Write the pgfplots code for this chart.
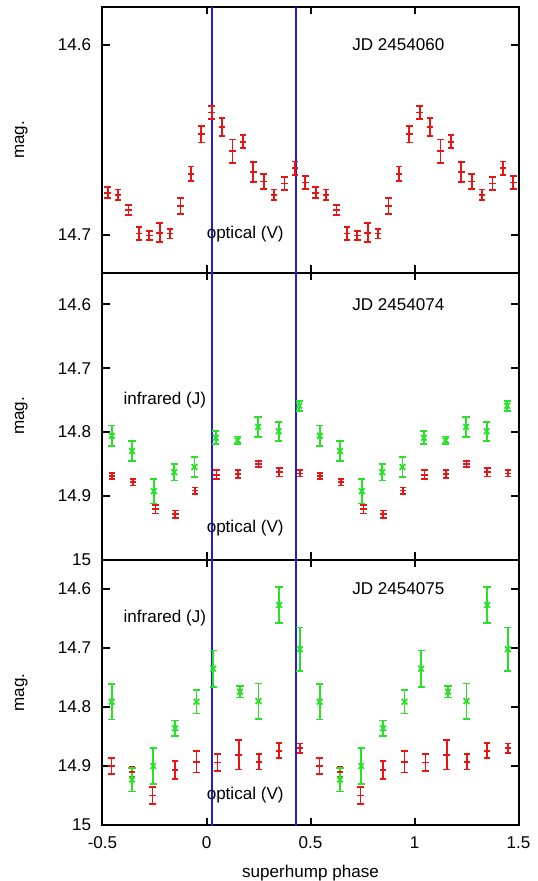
\documentclass[border=0pt]{standalone}
\usepackage{fontspec}
\setmainfont{Liberation Sans}
\usepackage{pgfplots}
\pgfplotsset{compat=1.18}
\usepackage{pgfplotstable}

\definecolor{vred}{RGB}{235,20,20}
\definecolor{jgreen}{RGB}{40,225,40}
\definecolor{phline}{RGB}{30,30,220}
\newcommand{\lbl}{\fontsize{12.8}{15}\selectfont}

% JD 2454060, optical
\pgfplotstableread{
x y ey
-0.475 14.678 0.0029
-0.425 14.679 0.0028
-0.375 14.687 0.0026
-0.325 14.6995 0.0034
-0.275 14.7005 0.0025
-0.225 14.699 0.0050
-0.175 14.6995 0.0025
-0.125 14.685 0.0042
-0.075 14.668 0.0039
-0.025 14.647 0.0044
0.025 14.6356 0.0035
0.075 14.6433 0.0048
0.125 14.656 0.0061
0.175 14.651 0.0035
0.225 14.667 0.0051
0.275 14.672 0.0039
0.325 14.679 0.0028
0.375 14.673 0.0035
0.425 14.665 0.0035
0.475 14.6725 0.0035
0.525 14.678 0.0029
0.575 14.679 0.0028
0.625 14.687 0.0026
0.675 14.6995 0.0034
0.725 14.7005 0.0025
0.775 14.699 0.0050
0.825 14.6995 0.0025
0.875 14.685 0.0042
0.925 14.668 0.0039
0.975 14.647 0.0044
1.025 14.6356 0.0035
1.075 14.6433 0.0048
1.125 14.656 0.0061
1.175 14.651 0.0035
1.225 14.667 0.0051
1.275 14.672 0.0039
1.325 14.679 0.0028
1.375 14.673 0.0035
1.425 14.665 0.0035
1.475 14.6725 0.0035
}\vA

% JD 2454074
\pgfplotstableread{
x y ey
-0.455 14.869 0.005
-0.353 14.879 0.005
-0.245 14.921 0.007
-0.150 14.929 0.006
-0.055 14.892 0.005
0.048 14.867 0.007
0.152 14.866 0.006
0.250 14.850 0.005
0.350 14.863 0.007
0.449 14.865 0.005
0.545 14.869 0.005
0.647 14.879 0.005
0.755 14.921 0.007
0.850 14.929 0.006
0.945 14.892 0.005
1.048 14.867 0.007
1.152 14.866 0.006
1.250 14.850 0.005
1.350 14.863 0.007
1.449 14.865 0.005
}\vB
\pgfplotstableread{
x y ey
-0.455 14.806 0.016
-0.358 14.830 0.016
-0.253 14.893 0.019
-0.155 14.863 0.013
-0.058 14.855 0.016
0.045 14.809 0.010
0.150 14.813 0.006
0.248 14.792 0.016
0.347 14.799 0.015
0.446 14.759 0.008
0.545 14.806 0.016
0.642 14.830 0.016
0.747 14.893 0.019
0.845 14.863 0.013
0.942 14.855 0.016
1.045 14.809 0.010
1.150 14.813 0.006
1.248 14.792 0.016
1.347 14.799 0.015
1.446 14.759 0.008
}\jB

% JD 2454075
\pgfplotstableread{
x y ey
-0.457 14.900 0.013
-0.358 14.910 0.009
-0.260 14.950 0.014
-0.151 14.907 0.015
-0.048 14.893 0.018
0.053 14.894 0.014
0.155 14.881 0.025
0.253 14.893 0.013
0.349 14.874 0.0125
0.449 14.870 0.008
0.543 14.900 0.013
0.642 14.910 0.009
0.740 14.950 0.014
0.849 14.907 0.015
0.952 14.893 0.018
1.053 14.894 0.014
1.155 14.881 0.025
1.253 14.893 0.013
1.349 14.874 0.0125
1.449 14.870 0.008
}\vC
\pgfplotstableread{
x y ey
-0.456 14.791 0.030
-0.358 14.923 0.020
-0.256 14.900 0.030
-0.151 14.836 0.013
-0.048 14.791 0.020
0.032 14.735 0.031
0.161 14.774 0.010
0.250 14.790 0.030
0.349 14.627 0.030
0.449 14.702 0.037
0.544 14.791 0.030
0.642 14.923 0.020
0.744 14.900 0.030
0.849 14.836 0.013
0.952 14.791 0.020
1.032 14.735 0.031
1.161 14.774 0.010
1.250 14.790 0.030
1.349 14.627 0.030
1.449 14.702 0.037
}\jC

\pgfplotsset{
  panel/.style={
    scale only axis, width=312pt,
    xmin=-0.5, xmax=1.5, y dir=reverse,
    xtick={-0.5,0,0.5,1,1.5},
    tick align=inside, major tick length=5.5pt,
    axis line style={line width=1.5pt},
    every tick/.style={black, line width=1.5pt},
    tick label style={font=\lbl},
    label style={font=\lbl},
    /pgf/number format/assume math mode=true,
    yticklabel style={xshift=-5pt},
    xticklabel style={yshift=-5pt},
    ylabel={mag.},
    ylabel style={at={(rel axis cs:-0.195,0.5)}, anchor=center},
  },
  vpts/.style={vred, mark=-, mark size=2.5pt, line width=1.3pt, only marks,
    error bars/.cd, y dir=both, y explicit,
    error bar style={line width=1.3pt},
    error mark options={rotate=90, mark size=2.5pt, line width=1.3pt}},
  jpts/.style={jgreen, mark=x, mark size=3pt, line width=1.3pt, only marks,
    error bars/.cd, y dir=both, y explicit,
    error bar style={line width=1.3pt},
    error mark options={rotate=90, mark size=2.7pt, line width=1.3pt}},
  phase/.style={phline, line width=1.1pt, no marks},
}

\begin{document}
\begin{tikzpicture}
\useasboundingbox (0,0) rectangle (402.75pt,-660.75pt);

\begin{axis}[panel, at={(76.875pt,-204.375pt)}, anchor=south west,
  height=199.125pt, ymin=14.58, ymax=14.72, ytick={14.6,14.7},
  xticklabels={}]
  \addplot[phase] coordinates {(0.027,14.5) (0.027,15.1)};
  \addplot[phase] coordinates {(0.43,14.5) (0.43,15.1)};
  \addplot[vpts] table[x=x, y=y, y error=ey] {\vA};
  \node[anchor=west, inner sep=0, font=\lbl] at (axis cs:0.7,14.6) {JD 2454060};
  \node[anchor=west, inner sep=0, font=\lbl] at (axis cs:0,14.7) {optical (V)};
\end{axis}

\begin{axis}[panel, at={(76.875pt,-419.625pt)}, anchor=south west,
  height=215.25pt, ymin=14.55, ymax=15, ytick={14.6,14.7,14.8,14.9,15},
  xticklabels={}]
  \addplot[phase] coordinates {(0.027,14.5) (0.027,15.1)};
  \addplot[phase] coordinates {(0.43,14.5) (0.43,15.1)};
  \addplot[jpts] table[x=x, y=y, y error=ey] {\jB};
  \addplot[vpts] table[x=x, y=y, y error=ey] {\vB};
  \node[anchor=west, inner sep=0, font=\lbl] at (axis cs:0.7,14.6) {JD 2454074};
  \node[anchor=west, inner sep=0, font=\lbl] at (axis cs:-0.4,14.75) {infrared (J)};
  \node[anchor=west, inner sep=0, font=\lbl] at (axis cs:0,14.95) {optical (V)};
\end{axis}

\begin{axis}[panel, at={(76.875pt,-618.75pt)}, anchor=south west,
  height=199.125pt, ymin=14.55, ymax=15, ytick={14.6,14.7,14.8,14.9,15},
  xlabel={superhump phase},
  xlabel style={at={(rel axis cs:0.5,-0.18)}, anchor=center}]
  \addplot[phase] coordinates {(0.027,14.5) (0.027,15.1)};
  \addplot[phase] coordinates {(0.43,14.5) (0.43,15.1)};
  \addplot[vpts] table[x=x, y=y, y error=ey] {\vC};
  \addplot[jpts] table[x=x, y=y, y error=ey] {\jC};
  \node[anchor=west, inner sep=0, font=\lbl] at (axis cs:0.7,14.6) {JD 2454075};
  \node[anchor=west, inner sep=0, font=\lbl] at (axis cs:-0.4,14.65) {infrared (J)};
  \node[anchor=west, inner sep=0, font=\lbl] at (axis cs:0,14.95) {optical (V)};
\end{axis}
\end{tikzpicture}
\end{document}
